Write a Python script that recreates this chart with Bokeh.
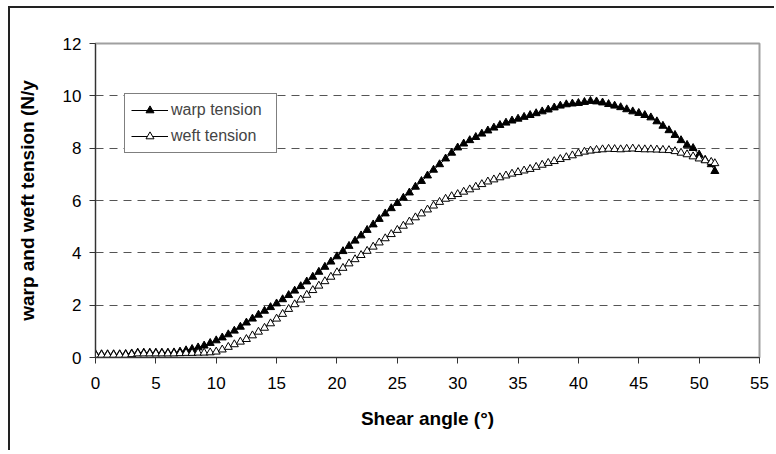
from bokeh.plotting import figure
from bokeh.models import ColumnDataSource, Legend, LegendItem, FixedTicker
from bokeh.embed import file_html
from bokeh.resources import INLINE

shear_warp = [0.0, 0.5, 1.0, 1.5, 2.0, 2.5, 3.0, 3.5, 4.0, 4.5, 5.0, 5.5, 6.0, 6.5, 7.0, 7.5, 8.0, 8.5, 9.0, 9.5,
              10.0, 10.5, 11.0, 11.5, 12.0, 12.5, 13.0, 13.5, 14.0, 14.5, 15.0, 15.5, 16.0, 16.5, 17.0, 17.5, 18.0, 18.5, 19.0, 19.5,
              20.0, 20.5, 21.0, 21.5, 22.0, 22.5, 23.0, 23.5, 24.0, 24.5, 25.0, 25.5, 26.0, 26.5, 27.0, 27.5, 28.0, 28.5, 29.0, 29.5,
              30.0, 30.5, 31.0, 31.5, 32.0, 32.5, 33.0, 33.5, 34.0, 34.5, 35.0, 35.5, 36.0, 36.5, 37.0, 37.5, 38.0, 38.5, 39.0, 39.5,
              40.0, 40.5, 41.0, 41.5, 42.0, 42.5, 43.0, 43.5, 44.0, 44.5, 45.0, 45.5, 46.0, 46.5, 47.0, 47.5, 48.0, 48.5, 49.0, 49.5,
              50.0, 50.5, 51.0, 51.3]
warp_tension = [0.12, 0.12, 0.12, 0.12, 0.12, 0.13, 0.15, 0.18, 0.18, 0.18, 0.18, 0.18, 0.18, 0.19, 0.22, 0.27, 0.32, 0.38, 0.45, 0.55,
                0.65, 0.76, 0.88, 1.02, 1.17, 1.33, 1.48, 1.63, 1.78, 1.92, 2.06, 2.22, 2.38, 2.55, 2.72, 2.90, 3.08, 3.27, 3.46, 3.66,
                3.86, 4.06, 4.26, 4.46, 4.66, 4.87, 5.08, 5.29, 5.50, 5.70, 5.90, 6.10, 6.30, 6.52, 6.74, 6.95, 7.17, 7.38, 7.60, 7.82,
                8.02, 8.17, 8.30, 8.42, 8.55, 8.67, 8.78, 8.88, 8.97, 9.05, 9.12, 9.19, 9.26, 9.33, 9.40, 9.47, 9.55, 9.62, 9.67, 9.70,
                9.72, 9.76, 9.80, 9.78, 9.74, 9.68, 9.62, 9.56, 9.48, 9.40, 9.34, 9.26, 9.17, 9.02, 8.85, 8.68, 8.50, 8.30, 8.12, 8.00,
                7.75, 7.55, 7.38, 7.12]

shear_weft = [0.0, 0.5, 1.0, 1.5, 2.0, 2.5, 3.0, 3.5, 4.0, 4.5, 5.0, 5.5, 6.0, 6.5, 7.0, 7.5, 8.0, 8.5, 9.0, 9.5,
              10.0, 10.5, 11.0, 11.5, 12.0, 12.5, 13.0, 13.5, 14.0, 14.5, 15.0, 15.5, 16.0, 16.5, 17.0, 17.5, 18.0, 18.5, 19.0, 19.5,
              20.0, 20.5, 21.0, 21.5, 22.0, 22.5, 23.0, 23.5, 24.0, 24.5, 25.0, 25.5, 26.0, 26.5, 27.0, 27.5, 28.0, 28.5, 29.0, 29.5,
              30.0, 30.5, 31.0, 31.5, 32.0, 32.5, 33.0, 33.5, 34.0, 34.5, 35.0, 35.5, 36.0, 36.5, 37.0, 37.5, 38.0, 38.5, 39.0, 39.5,
              40.0, 40.5, 41.0, 41.5, 42.0, 42.5, 43.0, 43.5, 44.0, 44.5, 45.0, 45.5, 46.0, 46.5, 47.0, 47.5, 48.0, 48.5, 49.0, 49.5,
              50.0, 50.5, 51.0, 51.3]
weft_tension = [0.10, 0.10, 0.10, 0.10, 0.10, 0.10, 0.12, 0.15, 0.15, 0.15, 0.15, 0.15, 0.15, 0.15, 0.16, 0.17, 0.17, 0.18, 0.18, 0.19,
                0.22, 0.30, 0.40, 0.50, 0.60, 0.70, 0.84, 0.98, 1.13, 1.30, 1.48, 1.66, 1.85, 2.03, 2.21, 2.39, 2.57, 2.74, 2.91, 3.08,
                3.25, 3.42, 3.59, 3.75, 3.91, 4.07, 4.23, 4.39, 4.55, 4.71, 4.87, 5.03, 5.19, 5.35, 5.50, 5.65, 5.80, 5.94, 6.06, 6.16,
                6.24, 6.33, 6.42, 6.52, 6.62, 6.72, 6.80, 6.88, 6.95, 7.02, 7.08, 7.14, 7.20, 7.28, 7.36, 7.43, 7.50, 7.58, 7.65, 7.72,
                7.80, 7.86, 7.90, 7.93, 7.95, 7.97, 7.96, 7.95, 7.97, 7.98, 7.96, 7.95, 7.95, 7.94, 7.93, 7.92, 7.88, 7.82, 7.76, 7.68,
                7.60, 7.53, 7.47, 7.42]

x_ticks = [0, 5, 10, 15, 20, 25, 30, 35, 40, 45, 50, 55]
y_ticks = [0, 2, 4, 6, 8, 10, 12]

FONT = "Liberation Sans"

p = figure(width=766, height=444, output_backend="svg", toolbar_location=None,
           x_range=(0, 55), y_range=(0, 12),
           min_border_left=85, min_border_right=17, min_border_top=35, min_border_bottom=95)
p.styles = {"margin-left": "8px", "margin-top": "6px",
            "border-left": "2px solid #222", "border-top": "2px solid #222"}

p.outline_line_color = "#a0a0a0"
p.outline_line_width = 2
p.xgrid.visible = False
p.ygrid.grid_line_color = "#555555"
p.ygrid.grid_line_dash = "8 6"
p.ygrid.grid_line_width = 1
p.ygrid.ticker = FixedTicker(ticks=[2, 4, 6, 8, 10])

for ax in (p.xaxis[0], p.yaxis[0]):
    ax.axis_line_color = "#333333"
    ax.axis_line_width = 1
    ax.major_tick_line_color = "#333333"
    ax.major_tick_in = 0
    ax.major_tick_out = 6
    ax.minor_tick_line_color = None
    ax.major_label_text_font = FONT
    ax.major_label_text_font_size = "17px"
    ax.major_label_text_color = "black"
    ax.axis_label_text_font = FONT
    ax.axis_label_text_font_size = "19px"
    ax.axis_label_text_font_style = "bold"
    ax.axis_label_text_color = "black"

p.xaxis.ticker = FixedTicker(ticks=x_ticks)
p.yaxis.ticker = FixedTicker(ticks=y_ticks)
p.xaxis.axis_label = "Shear angle (°)"
p.yaxis.axis_label = "warp and weft tension (N/y"
p.xaxis.major_label_standoff = 13
p.yaxis.major_label_standoff = 8
p.xaxis.axis_label_standoff = 16
p.yaxis.axis_label_standoff = 22

src_warp = ColumnDataSource(dict(x=shear_warp, y=warp_tension))
src_weft = ColumnDataSource(dict(x=shear_weft, y=weft_tension))

l1 = p.line("x", "y", source=src_warp, line_color="black", line_width=1)
m1 = p.scatter("x", "y", source=src_warp, marker="triangle", size=8,
               fill_color="black", line_color="black", line_width=1)
l2 = p.line("x", "y", source=src_weft, line_color="black", line_width=1)
m2 = p.scatter("x", "y", source=src_weft, marker="triangle", size=8,
               fill_color="white", line_color="black", line_width=1)

legend = Legend(items=[LegendItem(label="warp tension", renderers=[l1, m1]),
                       LegendItem(label="weft tension", renderers=[l2, m2])],
                location=(29, 204))
legend.border_line_color = "black"
legend.border_line_width = 1
legend.background_fill_color = "white"
legend.background_fill_alpha = 1
legend.label_text_font = FONT
legend.label_text_font_size = "16px"
legend.glyph_width = 37
legend.glyph_height = 20
legend.label_height = 20
legend.label_width = 99
legend.label_standoff = 3
legend.spacing = 6
legend.padding = 6
legend.margin = 0
p.add_layout(legend)

open("out.html", "w").write(file_html(p, INLINE))
